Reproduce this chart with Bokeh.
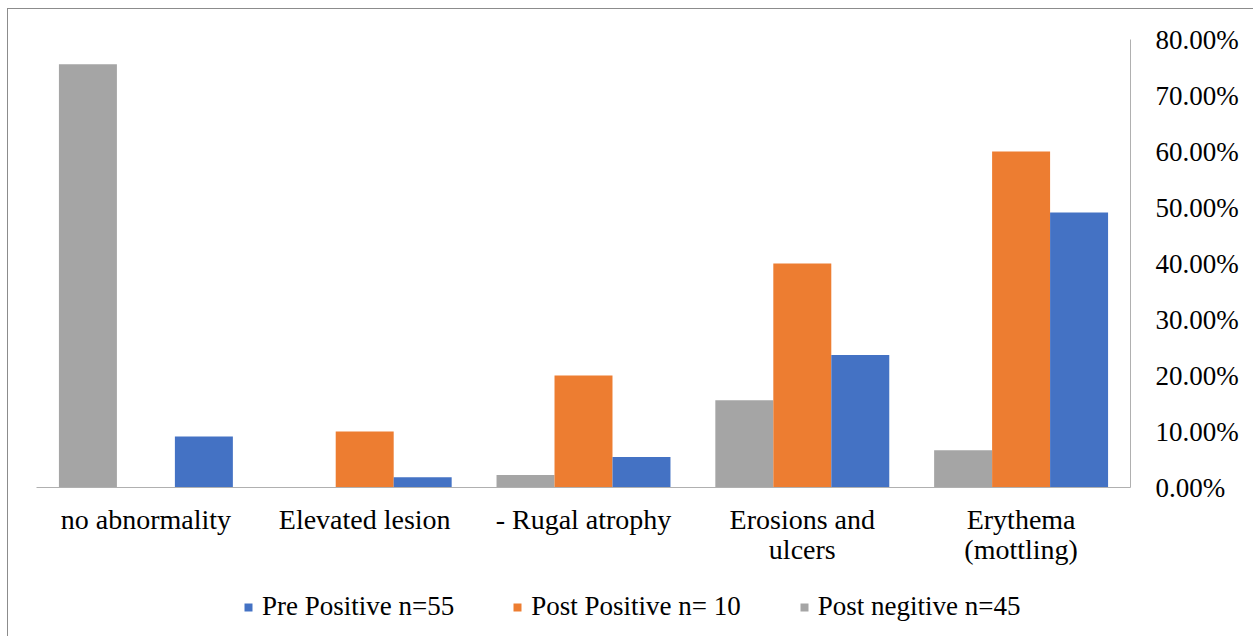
from bokeh.plotting import figure
from bokeh.layouts import column
from bokeh.models import ColumnDataSource, FactorRange, FixedTicker, NumeralTickFormatter, Legend, LegendItem
from bokeh.transform import dodge
from bokeh.embed import file_html
from bokeh.resources import INLINE

categories = ["no abnormality", "Elevated lesion", "- Rugal atrophy", "Erosions and\nulcers", "Erythema\n(mottling)"]
post_negative = [0.7556, 0.0, 0.0222, 0.1556, 0.0667]
post_positive = [0.0, 0.10, 0.20, 0.40, 0.60]
pre_positive = [0.0909, 0.0182, 0.0545, 0.2364, 0.4909]
y_ticks = [0.0, 0.1, 0.2, 0.3, 0.4, 0.5, 0.6, 0.7, 0.8]
series_names = ["Pre Positive n=55", "Post Positive n= 10", "Post negitive n=45"]
colors = ["#4472C4", "#ED7D31", "#A5A5A5"]

src = ColumnDataSource(dict(cat=categories, neg=post_negative, pos=post_positive, pre=pre_positive))

FONT = "Liberation Serif"
W = 0.265

def bars(fig):
    rn = fig.vbar(x=dodge("cat", -W, range=fig.x_range), top="neg", width=W, source=src,
                  fill_color=colors[2], line_color=None)
    rp = fig.vbar(x=dodge("cat", 0, range=fig.x_range), top="pos", width=W, source=src,
                  fill_color=colors[1], line_color=None)
    rr = fig.vbar(x=dodge("cat", W, range=fig.x_range), top="pre", width=W, source=src,
                  fill_color=colors[0], line_color=None)
    return rr, rp, rn

p = figure(x_range=FactorRange(*categories, range_padding=0), y_range=(0, 0.8),
           frame_width=1094, frame_height=448, output_backend="svg", toolbar_location=None,
           y_axis_location="right",
           min_border_left=28, min_border_right=123, min_border_top=30, min_border_bottom=85)
bars(p)

p.outline_line_color = None
p.xgrid.grid_line_color = None
p.ygrid.grid_line_color = None

ya = p.yaxis[0]
ya.ticker = FixedTicker(ticks=y_ticks)
ya.formatter = NumeralTickFormatter(format="0.00%")
ya.axis_line_color = "#b0b0b0"
ya.major_tick_line_color = None
ya.minor_tick_line_color = None
ya.major_tick_out = 0
ya.major_label_standoff = 25
ya.major_label_text_font = FONT
ya.major_label_text_font_size = "27px"
ya.major_label_text_color = "#000000"

xa = p.xaxis[0]
xa.axis_line_color = "#b0b0b0"
xa.major_tick_line_color = None
xa.major_tick_out = 0
xa.major_label_standoff = 16
xa.major_label_text_font = FONT
xa.major_label_text_font_size = "28px"
xa.major_label_text_color = "#000000"
xa.major_label_text_line_height = 0.97

# legend strip below the chart (bars here lie outside its visible range)
pl = figure(x_range=FactorRange(*categories, range_padding=0), y_range=(10, 11),
            width=1245, height=64, output_backend="svg", toolbar_location=None,
            x_axis_type=None, y_axis_type=None,
            min_border_left=0, min_border_right=0, min_border_top=0, min_border_bottom=0)
pl.outline_line_color = None
pl.xgrid.grid_line_color = None
pl.ygrid.grid_line_color = None
r_pre, r_pos, r_neg = bars(pl)

legend = Legend(items=[LegendItem(label=series_names[0], renderers=[r_pre]),
                       LegendItem(label=series_names[1], renderers=[r_pos]),
                       LegendItem(label=series_names[2], renderers=[r_neg])],
                orientation="horizontal", location=(207, 14),
                label_text_font=FONT, label_text_font_size="27px", label_text_color="#000000",
                glyph_width=10, glyph_height=10, label_standoff=9, spacing=58,
                padding=0, margin=0, border_line_color=None, background_fill_alpha=0)
pl.add_layout(legend, "center")

layout = column(p, pl, spacing=0)
layout.styles = {"margin-left": "7px", "margin-top": "8px",
                 "border-left": "1px solid #8c8c8c", "border-top": "1px solid #8c8c8c"}

open("out.html", "w").write(file_html(layout, INLINE))
